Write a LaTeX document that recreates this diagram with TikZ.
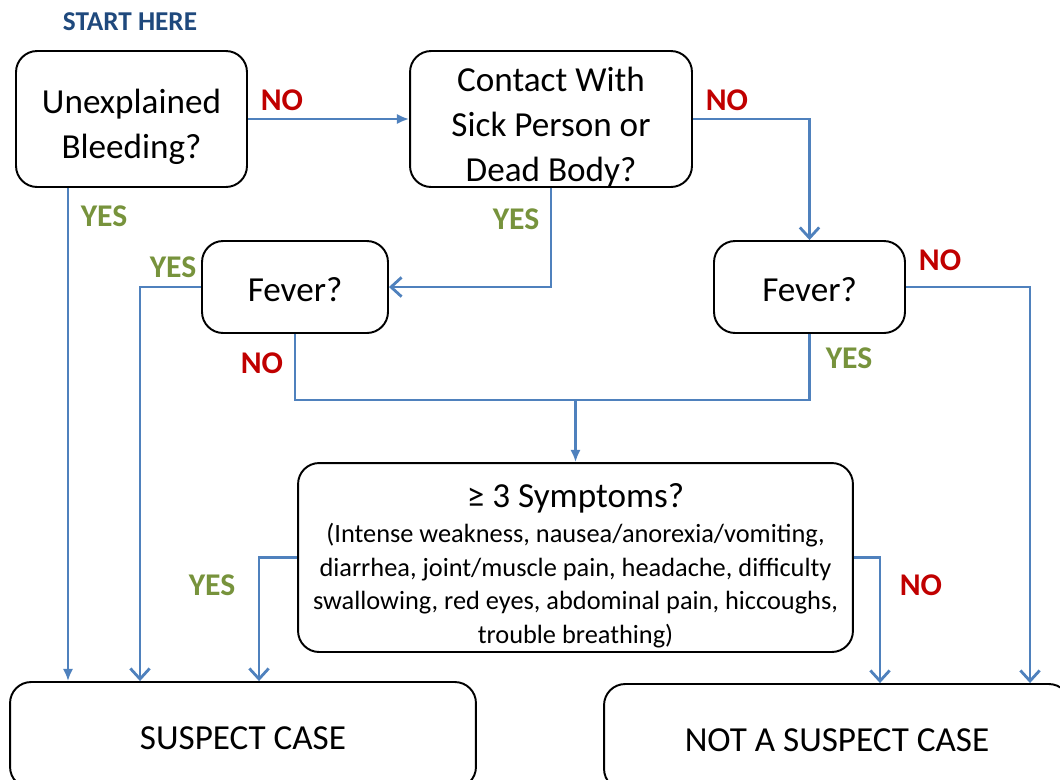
\documentclass[tikz,border=0pt]{standalone}
\usepackage{fontspec}
\setmainfont{Carlito}
\usetikzlibrary{arrows.meta}
\definecolor{linkblue}{HTML}{4F81BD}
\definecolor{nored}{HTML}{C00000}
\definecolor{yesgreen}{HTML}{77933C}
\definecolor{startblue}{HTML}{1F497D}
\newcommand{\topgap}{\rule{0pt}{23pt}}
\tikzset{
  box/.style={draw, line width=1.1pt, rounded corners=12pt, align=center, inner ysep=0pt,
    font=\fontsize{20}{25.5}\selectfont, execute at begin node={\rule{0pt}{17pt}}},
  link/.style={draw=linkblue, line width=1.6pt, -{Straight Barb[length=6pt,width=11pt]}},
  linktri/.style={draw=linkblue, line width=1.6pt, -{Latex[length=7pt,width=6pt]}},
  nolabel/.style={text=nored, font=\fontsize{18}{20}\selectfont\bfseries},
  yeslabel/.style={text=yesgreen, font=\fontsize{18}{20}\selectfont\bfseries}
}
\begin{document}
\begin{tikzpicture}[x=0.02cm,y=-0.02cm]
\clip (0,0) rectangle (1060,779);
\node[text=startblue, font=\fontsize{15.5}{18}\selectfont\bfseries] (start) at (130,22) {START HERE};

\node[box, minimum width=4.62cm, minimum height=2.72cm] (bleed) at (131.5,119) {\topgap Unexplained\\Bleeding?};
\node[box, minimum width=5.64cm, minimum height=2.72cm] (contact) at (551,119) {\topgap Contact With\\Sick Person or\\Dead Body?};
\node[box, minimum width=3.72cm, minimum height=1.84cm] (feverL) at (295,287) {Fever?};
\node[box, minimum width=3.82cm, minimum height=1.84cm] (feverR) at (809.5,287) {Fever?};
\node[box, minimum width=11.1cm, minimum height=3.78cm, font=\fontsize{15}{19}\selectfont] (symp) at (575.5,557.5)
  {{\fontsize{20}{24}\selectfont\topgap ≥ 3 Symptoms?}\\[1pt]
   (Intense weakness, nausea/anorexia/vomiting,\\
   diarrhea, joint/muscle pain, headache, difficulty\\
   swallowing, red eyes, abdominal pain, hiccoughs,\\
   trouble breathing)};
\node[box, minimum width=9.32cm, minimum height=2.12cm] (suspect) at (243,735) {SUSPECT CASE};
\node[box, minimum width=9.32cm, minimum height=2.12cm] (notsusp) at (837,737) {NOT A SUSPECT CASE};

\coordinate (downA) at (68,0);
\coordinate (downB) at (140,0);
\coordinate (downC) at (259,0);
\coordinate (downD) at (880,0);
\coordinate (downE) at (1030,0);
\coordinate (merge) at (575.5,400);

\draw[linktri] (bleed.east) -- (contact.west);
\draw[linktri] (downA |- bleed.south) -- (downA |- suspect.north);
\draw[link] (contact.east) -| (feverR.north);
\draw[link] (contact.south) |- (feverL.east);
\draw[link] (feverL.west) -| (downB |- suspect.north);
\draw[linkblue, line width=1.6pt] (feverL.south) |- (merge) -| (feverR.south);
\draw[linktri] (merge) -- (symp.north);
\draw[link] (feverR.east) -| (downE |- notsusp.north);
\draw[link] (symp.west) -| (downC |- suspect.north);
\draw[link] (symp.east) -| (downD |- notsusp.north);

\node[nolabel] (no1) at (282,100) {NO};
\node[yeslabel] (yes1) at (104,216) {YES};
\node[nolabel] (no2) at (727,100) {NO};
\node[yeslabel] (yes2) at (516,219) {YES};
\node[yeslabel] (yes3) at (173,267) {YES};
\node[nolabel] (no3) at (262,363) {NO};
\node[yeslabel] (yes4) at (849,358) {YES};
\node[nolabel] (no4) at (940,260) {NO};
\node[yeslabel] (yes5) at (212,585) {YES};
\node[nolabel] (no5) at (921,585) {NO};
\end{tikzpicture}
\end{document}
